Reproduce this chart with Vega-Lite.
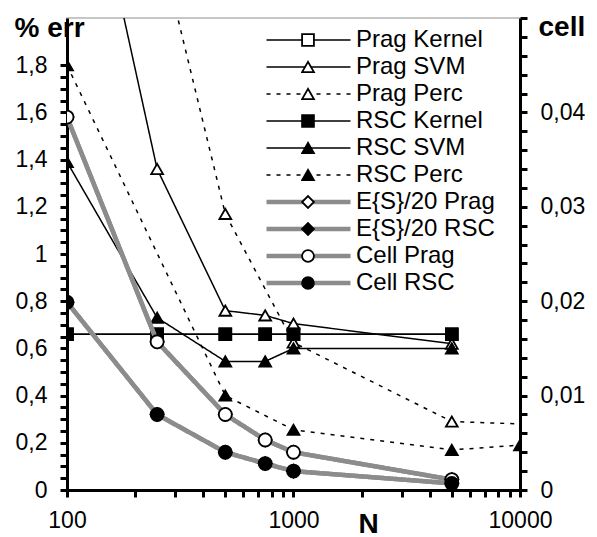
{
  "$schema": "https://vega.github.io/schema/vega-lite/v6.json",
  "autosize": {"type": "pad"},
  "padding": {"left": 14, "top": 7, "right": 0, "bottom": 0},
  "width": 453,
  "height": 472,
  "config": {
    "view": {"stroke": "#b4b4b4", "strokeWidth": 1.5},
    "axis": {"labelFont": "Liberation Sans", "titleFont": "Liberation Sans", "labelColor": "black", "titleColor": "black", "tickColor": "black", "domainColor": "black", "grid": false, "labelFontSize": 23, "titleFontSize": 28, "titleFontWeight": "bold"},
    "legend": {"labelFont": "Liberation Sans"}
  },
  "datasets": {
    "err": [
      {"s": "Prag Kernel", "N": 100, "v": 0.66}, {"s": "Prag Kernel", "N": 250, "v": 0.66}, {"s": "Prag Kernel", "N": 500, "v": 0.66}, {"s": "Prag Kernel", "N": 750, "v": 0.66}, {"s": "Prag Kernel", "N": 1000, "v": 0.66}, {"s": "Prag Kernel", "N": 5000, "v": 0.66},
      {"s": "Prag SVM", "N": 100, "v": 3.1}, {"s": "Prag SVM", "N": 250, "v": 1.36}, {"s": "Prag SVM", "N": 500, "v": 0.76}, {"s": "Prag SVM", "N": 750, "v": 0.74}, {"s": "Prag SVM", "N": 1000, "v": 0.705}, {"s": "Prag SVM", "N": 5000, "v": 0.62},
      {"s": "Prag Perc", "N": 250, "v": 2.36}, {"s": "Prag Perc", "N": 500, "v": 1.17}, {"s": "Prag Perc", "N": 1000, "v": 0.625}, {"s": "Prag Perc", "N": 5000, "v": 0.29}, {"s": "Prag Perc", "N": 20000, "v": 0.27},
      {"s": "RSC Kernel", "N": 100, "v": 0.66}, {"s": "RSC Kernel", "N": 250, "v": 0.66}, {"s": "RSC Kernel", "N": 500, "v": 0.66}, {"s": "RSC Kernel", "N": 750, "v": 0.66}, {"s": "RSC Kernel", "N": 1000, "v": 0.66}, {"s": "RSC Kernel", "N": 5000, "v": 0.66},
      {"s": "RSC SVM", "N": 100, "v": 1.39}, {"s": "RSC SVM", "N": 250, "v": 0.73}, {"s": "RSC SVM", "N": 500, "v": 0.545}, {"s": "RSC SVM", "N": 750, "v": 0.545}, {"s": "RSC SVM", "N": 1000, "v": 0.6}, {"s": "RSC SVM", "N": 5000, "v": 0.6},
      {"s": "RSC Perc", "N": 100, "v": 1.8}, {"s": "RSC Perc", "N": 500, "v": 0.4}, {"s": "RSC Perc", "N": 1000, "v": 0.255}, {"s": "RSC Perc", "N": 5000, "v": 0.17}, {"s": "RSC Perc", "N": 10000, "v": 0.19}
    ],
    "cell": [
      {"s": "E{S}/20 Prag", "N": 100, "v": 0.0395}, {"s": "E{S}/20 Prag", "N": 250, "v": 0.0157}, {"s": "E{S}/20 Prag", "N": 500, "v": 0.008}, {"s": "E{S}/20 Prag", "N": 750, "v": 0.0053}, {"s": "E{S}/20 Prag", "N": 1000, "v": 0.004}, {"s": "E{S}/20 Prag", "N": 5000, "v": 0.0011},
      {"s": "E{S}/20 RSC", "N": 100, "v": 0.0199}, {"s": "E{S}/20 RSC", "N": 250, "v": 0.008}, {"s": "E{S}/20 RSC", "N": 500, "v": 0.004}, {"s": "E{S}/20 RSC", "N": 750, "v": 0.0028}, {"s": "E{S}/20 RSC", "N": 1000, "v": 0.002}, {"s": "E{S}/20 RSC", "N": 5000, "v": 0.0007},
      {"s": "Cell Prag", "N": 100, "v": 0.0395}, {"s": "Cell Prag", "N": 250, "v": 0.0157}, {"s": "Cell Prag", "N": 500, "v": 0.008}, {"s": "Cell Prag", "N": 750, "v": 0.0053}, {"s": "Cell Prag", "N": 1000, "v": 0.004}, {"s": "Cell Prag", "N": 5000, "v": 0.0011},
      {"s": "Cell RSC", "N": 100, "v": 0.0199}, {"s": "Cell RSC", "N": 250, "v": 0.008}, {"s": "Cell RSC", "N": 500, "v": 0.004}, {"s": "Cell RSC", "N": 750, "v": 0.0028}, {"s": "Cell RSC", "N": 1000, "v": 0.002}, {"s": "Cell RSC", "N": 5000, "v": 0.0007}
    ]
  },
  "layer": [
    {
      "data": {"name": "err"},
      "mark": {"type": "line", "clip": true},
      "encoding": {
        "x": {"field": "N", "type": "quantitative", "scale": {"type": "log", "domain": [100, 10000], "nice": false},
          "axis": {"orient": "bottom", "values": [100, 200, 300, 400, 500, 600, 700, 800, 900, 1000, 2000, 3000, 4000, 5000, 6000, 7000, 8000, 9000, 10000], "format": "d", "labelExpr": "datum.value == 100 || datum.value == 1000 || datum.value == 10000 ? datum.label : ''", "labelPadding": 12, "labelFlush": false, "labelOverlap": false, "tickSize": 7, "tickWidth": 3, "domainWidth": 3, "title": "N", "titleX": 301, "titleY": 42, "titleAlign": "center", "titleBaseline": "alphabetic"}},
        "y": {"field": "v", "type": "quantitative", "scale": {"domain": [0, 2], "nice": false},
          "axis": {"orient": "left", "values": [0, 0.05, 0.1, 0.15, 0.2, 0.25, 0.3, 0.35, 0.4, 0.45, 0.5, 0.55, 0.6, 0.65, 0.7, 0.75, 0.8, 0.85, 0.9, 0.95, 1, 1.05, 1.1, 1.15, 1.2, 1.25, 1.3, 1.35, 1.4, 1.45, 1.5, 1.55, 1.6, 1.65, 1.7, 1.75, 1.8],
            "labelExpr": "abs(datum.value * 5 - round(datum.value * 5)) < 0.001 ? replace(format(datum.value, '~g'), '.', ',') : ''",
            "labelPadding": 13, "labelFlush": false, "labelOverlap": false, "tickSize": 7, "tickWidth": 3, "domainWidth": 3,
            "title": "% err", "titleAngle": 0, "titleX": -53, "titleY": 18, "titleAlign": "left", "titleBaseline": "alphabetic"}},
        "stroke": {"field": "s", "type": "nominal",
          "scale": {"type": "ordinal", "domain": ["Prag Kernel", "Prag SVM", "Prag Perc", "RSC Kernel", "RSC SVM", "RSC Perc", "E{S}/20 Prag", "E{S}/20 RSC", "Cell Prag", "Cell RSC", " "], "range": ["black", "black", "black", "black", "black", "black", "#8c8c8c", "#8c8c8c", "#8c8c8c", "#8c8c8c", "white"]},
          "legend": {"orient": "none", "legendX": 197, "legendY": 8.5, "title": null, "symbolType": "stroke", "symbolSize": 7056, "clipHeight": 27, "rowPadding": 0, "padding": 0, "labelFontSize": 24, "labelColor": "black", "labelOffset": 3, "labelLimit": 300}},
        "strokeDash": {"field": "s", "type": "nominal",
          "scale": {"type": "ordinal", "domain": ["Prag Kernel", "Prag SVM", "Prag Perc", "RSC Kernel", "RSC SVM", "RSC Perc", "E{S}/20 Prag", "E{S}/20 RSC", "Cell Prag", "Cell RSC", " "], "range": [[1, 0], [1, 0], [4, 6], [1, 0], [1, 0], [4, 6], [1, 0], [1, 0], [1, 0], [1, 0], [1, 0]]},
          "legend": {"orient": "none", "legendX": 197, "legendY": 8.5, "title": null, "symbolType": "stroke", "symbolSize": 7056, "clipHeight": 27, "rowPadding": 0, "padding": 0, "labelFontSize": 24, "labelColor": "black", "labelOffset": 3, "labelLimit": 300}},
        "strokeWidth": {"field": "s", "type": "nominal",
          "scale": {"type": "ordinal", "domain": ["Prag Kernel", "Prag SVM", "Prag Perc", "RSC Kernel", "RSC SVM", "RSC Perc", "E{S}/20 Prag", "E{S}/20 RSC", "Cell Prag", "Cell RSC", " "], "range": [1.5, 1.5, 1.5, 1.5, 1.5, 1.5, 4.5, 4.5, 4.5, 4.5, 0]},
          "legend": {"orient": "none", "legendX": 197, "legendY": 8.5, "title": null, "symbolType": "stroke", "symbolSize": 7056, "clipHeight": 27, "rowPadding": 0, "padding": 0, "labelFontSize": 24, "labelColor": "black", "labelOffset": 3, "labelLimit": 300}}
      }
    },
    {
      "data": {"name": "err"},
      "transform": [{"filter": {"field": "s", "oneOf": ["Prag Kernel", "Prag SVM", "Prag Perc"]}}],
      "mark": {"type": "point", "clip": true, "opacity": 1, "filled": false, "stroke": "black", "strokeWidth": 1.8, "size": 140},
      "encoding": {
        "x": {"field": "N", "type": "quantitative", "scale": {"type": "log", "domain": [100, 10000], "nice": false},
          "axis": {"orient": "bottom", "values": [100, 200, 300, 400, 500, 600, 700, 800, 900, 1000, 2000, 3000, 4000, 5000, 6000, 7000, 8000, 9000, 10000], "format": "d", "labelExpr": "datum.value == 100 || datum.value == 1000 || datum.value == 10000 ? datum.label : ''", "labelPadding": 12, "labelFlush": false, "labelOverlap": false, "tickSize": 7, "tickWidth": 3, "domainWidth": 3, "title": "N", "titleX": 301, "titleY": 42, "titleAlign": "center", "titleBaseline": "alphabetic"}},
        "y": {"field": "v", "type": "quantitative", "scale": {"domain": [0, 2], "nice": false}, "axis": null},
        "shape": {"field": "s", "type": "nominal",
          "scale": {"domain": ["Prag Kernel", "Prag SVM", "Prag Perc", "RSC Kernel", "RSC SVM", "RSC Perc", "E{S}/20 Prag", "E{S}/20 RSC", "Cell Prag", "Cell RSC"], "range": ["square", "triangle-up", "triangle-up", "square", "triangle-up", "triangle-up", "diamond", "diamond", "circle", "circle"]},
          "legend": {"orient": "none", "legendX": 234, "legendY": 8.5, "title": null, "symbolSize": 140, "symbolStrokeColor": "black", "symbolStrokeWidth": 1.8, "symbolFillColor": "white", "clipHeight": 27, "rowPadding": 0, "padding": 0, "labelFontSize": 1, "labelExpr": "''"}},
        "fill": {"field": "s", "type": "nominal",
          "scale": {"domain": ["Prag Kernel", "Prag SVM", "Prag Perc", "RSC Kernel", "RSC SVM", "RSC Perc", "E{S}/20 Prag", "E{S}/20 RSC", "Cell Prag", "Cell RSC"], "range": ["white", "white", "white", "black", "black", "black", "white", "black", "white", "black"]}}
      }
    },
    {
      "data": {"name": "err"},
      "transform": [{"filter": {"field": "s", "oneOf": ["RSC Kernel", "RSC SVM", "RSC Perc"]}}],
      "mark": {"type": "point", "clip": true, "opacity": 1, "filled": false, "stroke": "black", "strokeWidth": 1.8, "size": 140},
      "encoding": {
        "x": {"field": "N", "type": "quantitative", "scale": {"type": "log", "domain": [100, 10000], "nice": false},
          "axis": {"orient": "bottom", "values": [100, 200, 300, 400, 500, 600, 700, 800, 900, 1000, 2000, 3000, 4000, 5000, 6000, 7000, 8000, 9000, 10000], "format": "d", "labelExpr": "datum.value == 100 || datum.value == 1000 || datum.value == 10000 ? datum.label : ''", "labelPadding": 12, "labelFlush": false, "labelOverlap": false, "tickSize": 7, "tickWidth": 3, "domainWidth": 3, "title": "N", "titleX": 301, "titleY": 42, "titleAlign": "center", "titleBaseline": "alphabetic"}},
        "y": {"field": "v", "type": "quantitative", "scale": {"domain": [0, 2], "nice": false}, "axis": null},
        "shape": {"field": "s", "type": "nominal",
          "scale": {"domain": ["Prag Kernel", "Prag SVM", "Prag Perc", "RSC Kernel", "RSC SVM", "RSC Perc", "E{S}/20 Prag", "E{S}/20 RSC", "Cell Prag", "Cell RSC"], "range": ["square", "triangle-up", "triangle-up", "square", "triangle-up", "triangle-up", "diamond", "diamond", "circle", "circle"]},
          "legend": {"orient": "none", "legendX": 234, "legendY": 8.5, "title": null, "symbolSize": 140, "symbolStrokeColor": "black", "symbolStrokeWidth": 1.8, "symbolFillColor": "white", "clipHeight": 27, "rowPadding": 0, "padding": 0, "labelFontSize": 1, "labelExpr": "''"}},
        "fill": {"field": "s", "type": "nominal",
          "scale": {"domain": ["Prag Kernel", "Prag SVM", "Prag Perc", "RSC Kernel", "RSC SVM", "RSC Perc", "E{S}/20 Prag", "E{S}/20 RSC", "Cell Prag", "Cell RSC"], "range": ["white", "white", "white", "black", "black", "black", "white", "black", "white", "black"]}}
      }
    },
    {
      "data": {"name": "cell"},
      "mark": {"type": "line", "clip": true},
      "encoding": {
        "x": {"field": "N", "type": "quantitative", "scale": {"type": "log", "domain": [100, 10000], "nice": false},
          "axis": {"orient": "bottom", "values": [100, 200, 300, 400, 500, 600, 700, 800, 900, 1000, 2000, 3000, 4000, 5000, 6000, 7000, 8000, 9000, 10000], "format": "d", "labelExpr": "datum.value == 100 || datum.value == 1000 || datum.value == 10000 ? datum.label : ''", "labelPadding": 12, "labelFlush": false, "labelOverlap": false, "tickSize": 7, "tickWidth": 3, "domainWidth": 3, "title": "N", "titleX": 301, "titleY": 42, "titleAlign": "center", "titleBaseline": "alphabetic"}},
        "y": {"field": "v", "type": "quantitative", "scale": {"domain": [0, 0.05], "nice": false},
          "axis": {"orient": "right", "values": [0, 0.002, 0.004, 0.006, 0.008, 0.01, 0.012, 0.014, 0.016, 0.018, 0.02, 0.022, 0.024, 0.026, 0.028, 0.03, 0.032, 0.034, 0.036, 0.038, 0.04, 0.042, 0.044, 0.046, 0.048, 0.05],
            "labelExpr": "abs(datum.value * 100 - round(datum.value * 100)) < 0.001 && datum.value < 0.045 ? replace(format(datum.value, '~g'), '.', ',') : ''",
            "labelPadding": 13, "labelFlush": false, "labelOverlap": false, "tickSize": 7, "tickWidth": 3, "domainWidth": 3,
            "title": "cell", "titleAngle": 0, "titleX": 18, "titleY": 17, "titleAlign": "left", "titleBaseline": "alphabetic"}},
        "stroke": {"field": "s", "type": "nominal",
          "scale": {"type": "ordinal", "domain": ["Prag Kernel", "Prag SVM", "Prag Perc", "RSC Kernel", "RSC SVM", "RSC Perc", "E{S}/20 Prag", "E{S}/20 RSC", "Cell Prag", "Cell RSC", " "], "range": ["black", "black", "black", "black", "black", "black", "#8c8c8c", "#8c8c8c", "#8c8c8c", "#8c8c8c", "white"]},
          "legend": {"orient": "none", "legendX": 197, "legendY": 8.5, "title": null, "symbolType": "stroke", "symbolSize": 7056, "clipHeight": 27, "rowPadding": 0, "padding": 0, "labelFontSize": 24, "labelColor": "black", "labelOffset": 3, "labelLimit": 300}},
        "strokeDash": {"field": "s", "type": "nominal",
          "scale": {"type": "ordinal", "domain": ["Prag Kernel", "Prag SVM", "Prag Perc", "RSC Kernel", "RSC SVM", "RSC Perc", "E{S}/20 Prag", "E{S}/20 RSC", "Cell Prag", "Cell RSC", " "], "range": [[1, 0], [1, 0], [4, 6], [1, 0], [1, 0], [4, 6], [1, 0], [1, 0], [1, 0], [1, 0], [1, 0]]},
          "legend": {"orient": "none", "legendX": 197, "legendY": 8.5, "title": null, "symbolType": "stroke", "symbolSize": 7056, "clipHeight": 27, "rowPadding": 0, "padding": 0, "labelFontSize": 24, "labelColor": "black", "labelOffset": 3, "labelLimit": 300}},
        "strokeWidth": {"field": "s", "type": "nominal",
          "scale": {"type": "ordinal", "domain": ["Prag Kernel", "Prag SVM", "Prag Perc", "RSC Kernel", "RSC SVM", "RSC Perc", "E{S}/20 Prag", "E{S}/20 RSC", "Cell Prag", "Cell RSC", " "], "range": [1.5, 1.5, 1.5, 1.5, 1.5, 1.5, 4.5, 4.5, 4.5, 4.5, 0]},
          "legend": {"orient": "none", "legendX": 197, "legendY": 8.5, "title": null, "symbolType": "stroke", "symbolSize": 7056, "clipHeight": 27, "rowPadding": 0, "padding": 0, "labelFontSize": 24, "labelColor": "black", "labelOffset": 3, "labelLimit": 300}}
      }
    },
    {
      "data": {"name": "cell"},
      "transform": [{"filter": {"field": "s", "oneOf": ["E{S}/20 Prag", "E{S}/20 RSC"]}}],
      "mark": {"type": "point", "clip": true, "opacity": 1, "filled": false, "stroke": "black", "strokeWidth": 1.8, "size": 170},
      "encoding": {
        "x": {"field": "N", "type": "quantitative", "scale": {"type": "log", "domain": [100, 10000], "nice": false},
          "axis": {"orient": "bottom", "values": [100, 200, 300, 400, 500, 600, 700, 800, 900, 1000, 2000, 3000, 4000, 5000, 6000, 7000, 8000, 9000, 10000], "format": "d", "labelExpr": "datum.value == 100 || datum.value == 1000 || datum.value == 10000 ? datum.label : ''", "labelPadding": 12, "labelFlush": false, "labelOverlap": false, "tickSize": 7, "tickWidth": 3, "domainWidth": 3, "title": "N", "titleX": 301, "titleY": 42, "titleAlign": "center", "titleBaseline": "alphabetic"}},
        "y": {"field": "v", "type": "quantitative", "scale": {"domain": [0, 0.05], "nice": false}, "axis": null},
        "shape": {"field": "s", "type": "nominal",
          "scale": {"domain": ["Prag Kernel", "Prag SVM", "Prag Perc", "RSC Kernel", "RSC SVM", "RSC Perc", "E{S}/20 Prag", "E{S}/20 RSC", "Cell Prag", "Cell RSC"], "range": ["square", "triangle-up", "triangle-up", "square", "triangle-up", "triangle-up", "diamond", "diamond", "circle", "circle"]},
          "legend": {"orient": "none", "legendX": 234, "legendY": 8.5, "title": null, "symbolSize": 140, "symbolStrokeColor": "black", "symbolStrokeWidth": 1.8, "symbolFillColor": "white", "clipHeight": 27, "rowPadding": 0, "padding": 0, "labelFontSize": 1, "labelExpr": "''"}},
        "fill": {"field": "s", "type": "nominal",
          "scale": {"domain": ["Prag Kernel", "Prag SVM", "Prag Perc", "RSC Kernel", "RSC SVM", "RSC Perc", "E{S}/20 Prag", "E{S}/20 RSC", "Cell Prag", "Cell RSC"], "range": ["white", "white", "white", "black", "black", "black", "white", "black", "white", "black"]}}
      }
    },
    {
      "data": {"name": "cell"},
      "transform": [{"filter": {"field": "s", "oneOf": ["Cell Prag", "Cell RSC"]}}],
      "mark": {"type": "point", "clip": true, "opacity": 1, "filled": false, "stroke": "black", "strokeWidth": 1.8, "size": 170},
      "encoding": {
        "x": {"field": "N", "type": "quantitative", "scale": {"type": "log", "domain": [100, 10000], "nice": false},
          "axis": {"orient": "bottom", "values": [100, 200, 300, 400, 500, 600, 700, 800, 900, 1000, 2000, 3000, 4000, 5000, 6000, 7000, 8000, 9000, 10000], "format": "d", "labelExpr": "datum.value == 100 || datum.value == 1000 || datum.value == 10000 ? datum.label : ''", "labelPadding": 12, "labelFlush": false, "labelOverlap": false, "tickSize": 7, "tickWidth": 3, "domainWidth": 3, "title": "N", "titleX": 301, "titleY": 42, "titleAlign": "center", "titleBaseline": "alphabetic"}},
        "y": {"field": "v", "type": "quantitative", "scale": {"domain": [0, 0.05], "nice": false}, "axis": null},
        "shape": {"field": "s", "type": "nominal",
          "scale": {"domain": ["Prag Kernel", "Prag SVM", "Prag Perc", "RSC Kernel", "RSC SVM", "RSC Perc", "E{S}/20 Prag", "E{S}/20 RSC", "Cell Prag", "Cell RSC"], "range": ["square", "triangle-up", "triangle-up", "square", "triangle-up", "triangle-up", "diamond", "diamond", "circle", "circle"]},
          "legend": {"orient": "none", "legendX": 234, "legendY": 8.5, "title": null, "symbolSize": 140, "symbolStrokeColor": "black", "symbolStrokeWidth": 1.8, "symbolFillColor": "white", "clipHeight": 27, "rowPadding": 0, "padding": 0, "labelFontSize": 1, "labelExpr": "''"}},
        "fill": {"field": "s", "type": "nominal",
          "scale": {"domain": ["Prag Kernel", "Prag SVM", "Prag Perc", "RSC Kernel", "RSC SVM", "RSC Perc", "E{S}/20 Prag", "E{S}/20 RSC", "Cell Prag", "Cell RSC"], "range": ["white", "white", "white", "black", "black", "black", "white", "black", "white", "black"]}}
      }
    }
  ],
  "resolve": {"scale": {"y": "independent"}}
}
